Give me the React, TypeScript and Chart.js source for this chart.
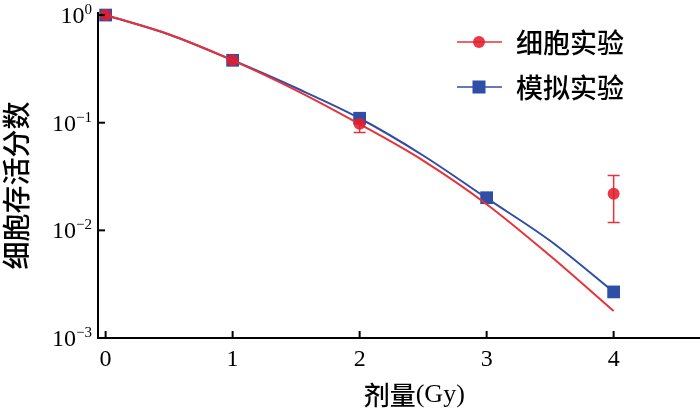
import React, { useEffect, useRef } from "react";
import { Chart, registerables } from "chart.js";

Chart.register(...registerables);

// fitted / simulated curves, read at half-Gy steps
const fitDose = [0, 0.5, 1, 1.5, 2, 2.5, 3, 3.5, 4];
const cellFit = [1.0, 0.66, 0.38, 0.2, 0.097, 0.0445, 0.0175, 0.0058, 0.00178];
const simFit = [1.0, 0.66, 0.38, 0.21, 0.11, 0.0496, 0.0199, 0.008, 0.00268];

// measured cell points with error bars
const cellDose = [0, 1, 2, 4];
const cellSurvival = [1.0, 0.38, 0.098, 0.0219];
const cellErrLow = [1.0, 0.38, 0.081, 0.0118];
const cellErrHigh = [1.0, 0.38, 0.107, 0.0323];

// simulation points
const simDose = [0, 1, 2, 3, 4];
const simSurvival = [1.0, 0.38, 0.11, 0.0201, 0.00268];

const xTicks = [0, 1, 2, 3, 4];
const yTicks = [1, 0.1, 0.01, 0.001];
const yTickExp = ["0", "−1", "−2", "−3"];

const seriesNames = ["细胞实验", "模拟实验"];
const xTitle = "剂量(Gy)";
const yTitle = "细胞存活分数";

const RED = "#e8323a";
const RED_PT = "rgba(228,30,45,0.88)";
const BLUE = "#2f4ea6";
const SERIF = "'Liberation Serif', 'Times New Roman', serif";
const CJK = "'Noto Sans CJK SC', sans-serif";

const App: React.FC = () => {
  const canvasRef = useRef<HTMLCanvasElement | null>(null);
  const chartRef = useRef<Chart | null>(null);

  useEffect(() => {
    if (!canvasRef.current) return;
    if (chartRef.current) chartRef.current.destroy();

    // error bars under the red points
    const errorBars = {
      id: "errorBars",
      beforeDatasetsDraw(chart: any) {
        const { ctx } = chart;
        const xs = chart.scales.x;
        const ys = chart.scales.y;
        ctx.save();
        ctx.strokeStyle = RED;
        ctx.lineWidth = 1.5;
        cellDose.forEach((d, i) => {
          if (cellErrHigh[i] === cellErrLow[i]) return;
          const px = xs.getPixelForValue(d);
          const top = ys.getPixelForValue(cellErrHigh[i]);
          const bot = ys.getPixelForValue(cellErrLow[i]);
          ctx.beginPath();
          ctx.moveTo(px, top);
          ctx.lineTo(px, bot);
          ctx.moveTo(px - 6, top);
          ctx.lineTo(px + 6, top);
          ctx.moveTo(px - 6, bot);
          ctx.lineTo(px + 6, bot);
          ctx.stroke();
        });
        ctx.restore();
      },
    };

    // inward ticks, labels, titles and legend
    const decorations = {
      id: "decorations",
      afterDraw(chart: any) {
        const { ctx, chartArea } = chart;
        const xs = chart.scales.x;
        const ys = chart.scales.y;
        ctx.save();
        ctx.strokeStyle = "#000";
        ctx.lineWidth = 2;
        ctx.fillStyle = "#000";

        // y ticks + labels
        yTicks.forEach((v, i) => {
          const py = ys.getPixelForValue(v);
          ctx.beginPath();
          ctx.moveTo(chartArea.left, py);
          ctx.lineTo(chartArea.left + 7, py);
          ctx.stroke();
          ctx.font = `15px ${SERIF}`;
          const supW = ctx.measureText(yTickExp[i]).width;
          const right = chartArea.left - 6;
          ctx.textAlign = "right";
          ctx.textBaseline = "alphabetic";
          ctx.fillText(yTickExp[i], right, py - 1);
          ctx.font = `24px ${SERIF}`;
          ctx.fillText("10", right - supW, py + 8);
        });

        // x ticks + labels
        xTicks.forEach((v) => {
          const px = xs.getPixelForValue(v);
          ctx.beginPath();
          ctx.moveTo(px, chartArea.bottom);
          ctx.lineTo(px, chartArea.bottom - 7);
          ctx.stroke();
          ctx.font = `24px ${SERIF}`;
          ctx.textAlign = "center";
          ctx.textBaseline = "middle";
          ctx.fillText(String(v), px, chartArea.bottom + 22);
        });

        // x title
        ctx.textBaseline = "middle";
        ctx.textAlign = "left";
        ctx.font = `500 26px ${CJK}`;
        const cjkPart = xTitle.slice(0, 2);
        const latPart = xTitle.slice(2);
        const w1 = ctx.measureText(cjkPart).width;
        ctx.font = `26px ${SERIF}`;
        const w2 = ctx.measureText(latPart).width;
        const startX = xs.getPixelForValue(2.43) - (w1 + w2) / 2;
        ctx.font = `500 26px ${CJK}`;
        ctx.fillText(cjkPart, startX, chartArea.bottom + 57);
        ctx.font = `26px ${SERIF}`;
        ctx.fillText(latPart, startX + w1, chartArea.bottom + 57);

        // y title
        ctx.save();
        ctx.translate(16, (chartArea.top + chartArea.bottom) / 2 + 10);
        ctx.rotate(-Math.PI / 2);
        ctx.font = `500 28px ${CJK}`;
        ctx.textAlign = "center";
        ctx.fillText(yTitle, 0, 0);
        ctx.restore();

        // legend
        const lx = 457;
        const rows = [42, 87];
        const colors = [RED, BLUE];
        rows.forEach((ry, i) => {
          ctx.strokeStyle = colors[i];
          ctx.lineWidth = 1.5;
          ctx.beginPath();
          ctx.moveTo(lx, ry);
          ctx.lineTo(lx + 45, ry);
          ctx.stroke();
          if (i === 0) {
            ctx.fillStyle = RED_PT;
            ctx.beginPath();
            ctx.arc(lx + 22, ry, 6, 0, Math.PI * 2);
            ctx.fill();
          } else {
            ctx.fillStyle = BLUE;
            ctx.fillRect(lx + 22 - 6.5, ry - 6.5, 13, 13);
          }
          ctx.fillStyle = "#000";
          ctx.font = `500 27px ${CJK}`;
          ctx.textAlign = "left";
          ctx.textBaseline = "middle";
          ctx.fillText(seriesNames[i], lx + 59, ry + 1);
        });
        ctx.restore();
      },
    };

    chartRef.current = new Chart(canvasRef.current, {
      type: "line",
      data: {
        datasets: [
          {
            label: seriesNames[0] + " fit",
            data: fitDose.map((d, i) => ({ x: d, y: cellFit[i] })),
            borderColor: RED,
            borderWidth: 2,
            pointRadius: 0,
            cubicInterpolationMode: "monotone",
            order: 1,
            clip: false,
          },
          {
            label: seriesNames[0],
            data: cellDose.map((d, i) => ({ x: d, y: cellSurvival[i] })),
            showLine: false,
            pointStyle: "circle",
            pointRadius: 6,
            pointBorderWidth: 0,
            pointBackgroundColor: RED_PT,
            order: 0,
            clip: false,
          },
          {
            label: seriesNames[1] + " fit",
            data: fitDose.map((d, i) => ({ x: d, y: simFit[i] })),
            borderColor: BLUE,
            borderWidth: 2,
            pointRadius: 0,
            cubicInterpolationMode: "monotone",
            order: 3,
            clip: false,
          },
          {
            label: seriesNames[1],
            data: simDose.map((d, i) => ({ x: d, y: simSurvival[i] })),
            showLine: false,
            pointStyle: "rect",
            pointRadius: 9,
            pointBorderWidth: 0,
            pointBackgroundColor: BLUE,
            order: 2,
            clip: false,
          },
        ],
      } as any,
      options: {
        animation: false,
        responsive: false,
        maintainAspectRatio: false,
        layout: {
          autoPadding: false,
          padding: { left: 98, right: 0, top: 13, bottom: 71 },
        },
        plugins: {
          legend: { display: false },
          tooltip: { enabled: false },
        },
        scales: {
          x: {
            type: "linear",
            min: -0.06,
            max: 4.68,
            grid: { display: false, drawTicks: false },
            border: { display: true, width: 2, color: "#000" },
            ticks: { display: false },
          },
          y: {
            type: "logarithmic",
            min: 0.001,
            max: 1.045,
            grid: { display: false, drawTicks: false },
            border: { display: true, width: 2, color: "#000" },
            ticks: { display: false },
          },
        },
      },
      plugins: [errorBars, decorations],
    });

    return () => {
      if (chartRef.current) {
        chartRef.current.destroy();
        chartRef.current = null;
      }
    };
  }, []);

  return (
    <div
      style={{
        position: "absolute",
        left: 0,
        top: 0,
        width: 700,
        height: 409,
        background: "#fff",
      }}
    >
      <canvas
        ref={canvasRef}
        width={700}
        height={409}
        style={{ width: 700, height: 409, display: "block" }}
      ></canvas>
    </div>
  );
};

export default App;
